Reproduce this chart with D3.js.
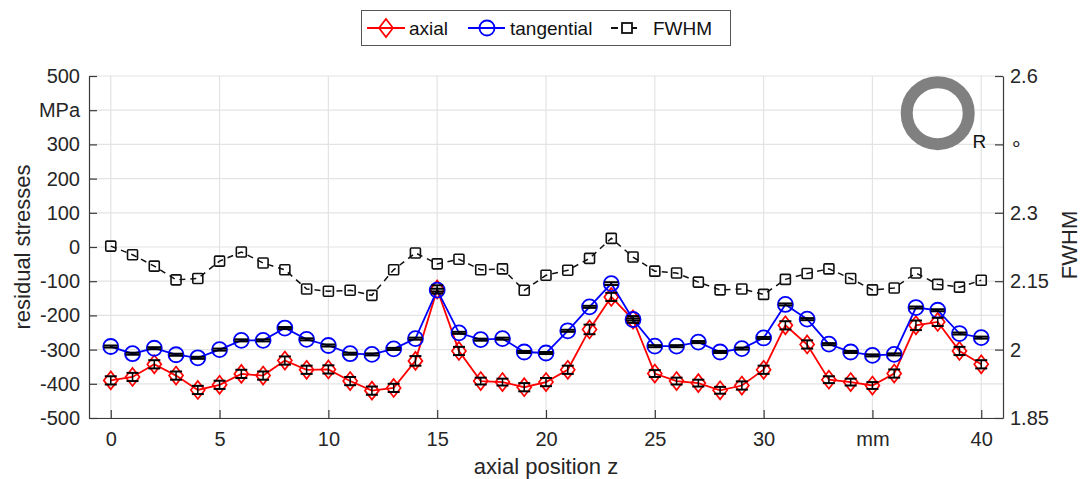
<!DOCTYPE html>
<html>
<head>
<meta charset="utf-8">
<script src="https://cdn.jsdelivr.net/npm/d3@7"></script>
<style>
  body { margin: 0; background: #fff; }
  svg { font-family: "Liberation Sans", Arial, sans-serif; }
</style>
</head>
<body>
<svg id="chart" width="1080" height="479"></svg>
<script>
// chart values
const position = [0,1,2,3,4,5,6,7,8,9,10,11,12,13,14,15,16,17,18,19,20,21,22,23,24,25,26,27,28,29,30,31,32,33,34,35,36,37,38,39,40];
const axial = [-390,-380,-343,-376,-418,-403,-371,-376,-332,-359,-358,-392,-420,-412,
  -333,-124,-304,-392,-395,-410,-395,-359,-241,-146,-212,-370,-392,-398,-419,
  -405,-359,-229,-285,-388,-395,-405,-370,-229,-219,-304,-343];
const axialErr = [12,12,12,12,12,12,12,12,12,12,12,12,12,12,14,12,12,10,10,12,12,12,14,12,10,10,10,10,10,12,12,12,12,10,10,10,12,14,12,12,12];
const tangential = [-291,-312,-296,-315,-324,-300,-273,-273,-237,-270,-288,-312,-314,-298,
  -268,-126,-251,-271,-268,-307,-310,-245,-175,-107,-212,-290,-290,-278,-307,
  -297,-266,-168,-211,-284,-307,-317,-314,-177,-185,-253,-265];
const tangentialErr = [3,3,3,3,3,3,3,3,3,3,3,3,3,3,3,4,3,3,3,3,3,3,3,4,3,3,3,3,3,3,3,3,3,3,3,3,3,3,3,3,3];
const fwhm = [2.227,2.208,2.183,2.153,2.156,2.194,2.214,2.190,2.175,2.133,2.128,2.130,2.119,2.175,
  2.212,2.188,2.198,2.175,2.177,2.130,2.163,2.174,2.200,2.244,2.203,2.172,2.168,2.148,2.131,
  2.133,2.121,2.154,2.167,2.177,2.156,2.131,2.135,2.168,2.143,2.137,2.152];

const leftTicks = [-500,-400,-300,-200,-100,0,100,200,300,400,500];
const leftTickLabels = ['-500','-400','-300','-200','-100','0','100','200','300','MPa','500'];
const rightTicks = [1.85,2,2.15,2.3,2.45,2.6];
const rightTickLabels = ['1.85','2','2.15','2.3','\u2218','2.6'];
const xTicks = [0,5,10,15,20,25,30,35,40];
const xTickLabels = ['0','5','10','15','20','25','30','mm','40'];

// layout
let svg = d3.select('#chart');
const margin = { top: 76, bottom: 61, right: 77, left: 89 };
const innerWidth = 1080 - margin.left - margin.right;
const innerHeight = 479 - margin.top - margin.bottom;
const axisColor = '#3a3a3a';
const textColor = '#262626';

let g = svg.append('g').attr('transform', `translate(${margin.left},${margin.top})`);

let xScale = d3.scaleLinear().domain([-1, 41]).range([0, innerWidth]);
let yScale = d3.scaleLinear().domain([-500, 500]).range([innerHeight, 0]);
let yRight = d3.scaleLinear().domain([1.85, 2.6]).range([innerHeight, 0]);

// grid
let gridG = g.append('g');
gridG.selectAll('.hgrid')
    .data(leftTicks)
    .join('line')
    .attr('x1', 0).attr('x2', innerWidth)
    .attr('y1', d => yScale(d)).attr('y2', d => yScale(d))
    .style('stroke', '#e3e3e3').style('stroke-width', 1.2);
gridG.selectAll('.vgrid')
    .data(xTicks)
    .join('line')
    .attr('x1', d => xScale(d)).attr('x2', d => xScale(d))
    .attr('y1', 0).attr('y2', innerHeight)
    .style('stroke', '#e3e3e3').style('stroke-width', 1.2);

// axes, ticks point inward like matlab
let leftAxis = g.append('g')
    .call(d3.axisLeft(yScale).tickValues(leftTicks).tickSizeInner(-8).tickSizeOuter(0).tickPadding(9)
        .tickFormat((d, i) => leftTickLabels[i]));
let rightAxis = g.append('g')
    .attr('transform', `translate(${innerWidth},0)`)
    .call(d3.axisRight(yRight).tickValues(rightTicks).tickSizeInner(-8).tickSizeOuter(0).tickPadding(7)
        .tickFormat((d, i) => rightTickLabels[i]));
let bottomAxis = g.append('g')
    .attr('transform', `translate(0,${innerHeight})`)
    .call(d3.axisBottom(xScale).tickValues(xTicks).tickSizeInner(-8).tickSizeOuter(0).tickPadding(14)
        .tickFormat((d, i) => xTickLabels[i]));
[leftAxis, rightAxis, bottomAxis].forEach(a => {
    a.selectAll('path, line').style('stroke', axisColor).style('stroke-width', 1.2);
    a.selectAll('text').style('font-size', '20px').style('fill', textColor)
        .style('font-family', '"Liberation Sans", Arial, sans-serif');
});

// axis titles
svg.append('text')
    .attr('transform', `translate(30,${margin.top + innerHeight / 2}) rotate(-90)`)
    .attr('text-anchor', 'middle')
    .style('font-size', '22px').style('fill', textColor)
    .text('residual stresses');
svg.append('text')
    .attr('x', margin.left + innerWidth / 2)
    .attr('y', 474)
    .attr('text-anchor', 'middle')
    .style('font-size', '22px').style('fill', textColor)
    .text('axial position z');
svg.append('text')
    .attr('transform', `translate(1077,245) rotate(-90)`)
    .attr('text-anchor', 'middle')
    .style('font-size', '22px').style('fill', textColor)
    .text('FWHM');

// ring icon with R
g.append('circle')
    .attr('cx', xScale(38)).attr('cy', yScale(400) + 3)
    .attr('r', 31)
    .style('fill', 'none').style('stroke', '#808080').style('stroke-width', 12);
g.append('text')
    .attr('x', xScale(39.6)).attr('y', yScale(300) + 4)
    .style('font-size', '19px').style('fill', '#111')
    .text('R');

// series
const rows = position.map((p, i) => ({
    x: p, axial: axial[i], aErr: axialErr[i],
    tang: tangential[i], tErr: tangentialErr[i], fwhm: fwhm[i]
}));

const diamond = (cx, cy) => `M${cx},${cy - 9}L${cx + 7},${cy}L${cx},${cy + 9}L${cx - 7},${cy}Z`;

// fwhm dashed line with squares
g.append('path')
    .datum(rows)
    .attr('d', d3.line().x(d => xScale(d.x)).y(d => yRight(d.fwhm)))
    .style('fill', 'none').style('stroke', '#111').style('stroke-width', 1.5)
    .style('stroke-dasharray', '6,5');
g.selectAll('.fwhm-sq')
    .data(rows)
    .join('rect')
    .attr('x', d => xScale(d.x) - 5).attr('y', d => yRight(d.fwhm) - 5)
    .attr('width', 10).attr('height', 10)
    .attr('rx', 1)
    .style('fill', 'none').style('stroke', '#111').style('stroke-width', 1.6);

// axial
g.append('path')
    .datum(rows)
    .attr('d', d3.line().x(d => xScale(d.x)).y(d => yScale(d.axial)))
    .style('fill', 'none').style('stroke', '#ff0000').style('stroke-width', 1.8);
g.selectAll('.axial-mk')
    .data(rows)
    .join('path')
    .attr('d', d => diamond(xScale(d.x), yScale(d.axial)))
    .style('fill', 'none').style('stroke', '#ff0000').style('stroke-width', 1.7);

// tangential
g.append('path')
    .datum(rows)
    .attr('d', d3.line().x(d => xScale(d.x)).y(d => yScale(d.tang)))
    .style('fill', 'none').style('stroke', '#0000ff').style('stroke-width', 1.8);
g.selectAll('.tang-mk')
    .data(rows)
    .join('circle')
    .attr('cx', d => xScale(d.x)).attr('cy', d => yScale(d.tang))
    .attr('r', 7.5)
    .style('fill', 'none').style('stroke', '#0000ff').style('stroke-width', 1.8);

// error bars (black)
function errorBars(key, errKey, half) {
    let eg = g.append('g');
    rows.forEach(d => {
        const cx = xScale(d.x);
        const y0 = yScale(d[key] - d[errKey]);
        const y1 = yScale(d[key] + d[errKey]);
        eg.append('line').attr('x1', cx).attr('x2', cx).attr('y1', y0).attr('y2', y1)
            .style('stroke', '#000').style('stroke-width', 1.5);
        [y0, y1].forEach(yy => {
            eg.append('line').attr('x1', cx - half).attr('x2', cx + half).attr('y1', yy).attr('y2', yy)
                .style('stroke', '#000').style('stroke-width', 2);
        });
    });
}
errorBars('axial', 'aErr', 6);
errorBars('tang', 'tErr', 7);

// legend
let leg = svg.append('g');
leg.append('rect')
    .attr('x', 361.5).attr('y', 10.5).attr('width', 369).attr('height', 35)
    .style('fill', '#fff').style('stroke', '#555').style('stroke-width', 1);
const ly = 28;
leg.append('line').attr('x1', 367).attr('x2', 405).attr('y1', ly).attr('y2', ly)
    .style('stroke', '#ff0000').style('stroke-width', 1.8);
leg.append('path').attr('d', diamond(386, ly))
    .style('fill', 'none').style('stroke', '#ff0000').style('stroke-width', 1.7);
leg.append('text').attr('x', 409).attr('y', ly + 7)
    .style('font-size', '19px').style('fill', '#111').text('axial');
leg.append('line').attr('x1', 468).attr('x2', 505).attr('y1', ly).attr('y2', ly)
    .style('stroke', '#0000ff').style('stroke-width', 1.8);
leg.append('circle').attr('cx', 487).attr('cy', ly).attr('r', 7.5)
    .style('fill', 'none').style('stroke', '#0000ff').style('stroke-width', 1.8);
leg.append('text').attr('x', 510).attr('y', ly + 7)
    .style('font-size', '19px').style('fill', '#111').text('tangential');
leg.append('line').attr('x1', 611).attr('x2', 618).attr('y1', ly).attr('y2', ly)
    .style('stroke', '#111').style('stroke-width', 2);
leg.append('rect').attr('x', 622).attr('y', ly - 5).attr('width', 10).attr('height', 10)
    .style('fill', 'none').style('stroke', '#111').style('stroke-width', 1.8);
leg.append('line').attr('x1', 632).attr('x2', 637).attr('y1', ly).attr('y2', ly)
    .style('stroke', '#111').style('stroke-width', 2);
leg.append('text').attr('x', 653).attr('y', ly + 7)
    .style('font-size', '19px').style('fill', '#111').text('FWHM');
</script>
</body>
</html>
